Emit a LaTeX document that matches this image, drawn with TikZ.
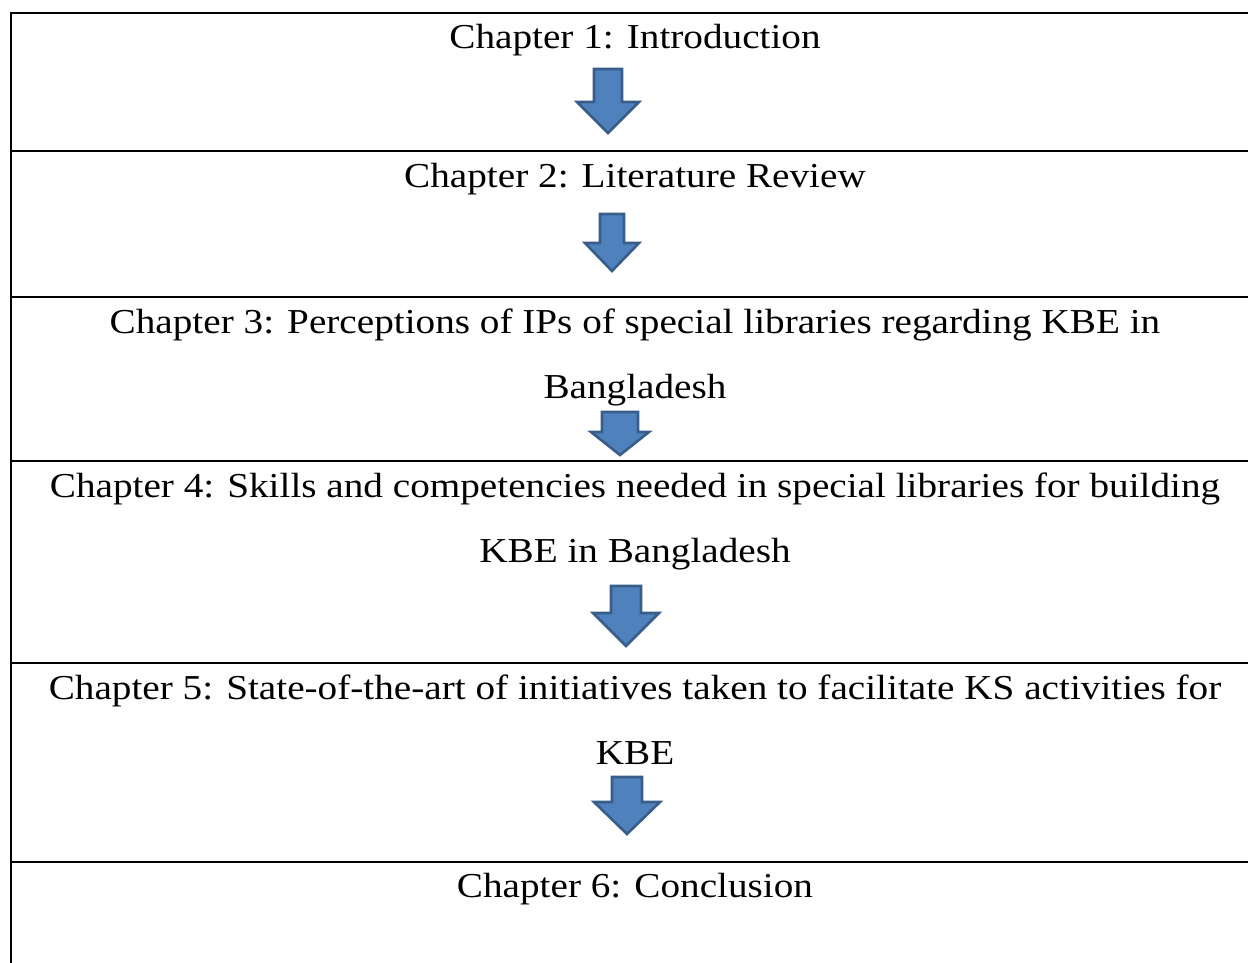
\documentclass[tikz,border=0pt]{standalone}
\usepackage{fontspec}
\setmainfont{Liberation Serif}[FakeStretch=1.12]
\definecolor{arrowfill}{HTML}{4F81BD}
\definecolor{arrowline}{HTML}{385D8A}
\tikzset{
  rule/.style={line width=2.4pt, black},
  chaptertext/.style={anchor=base, inner sep=0pt, font=\fontsize{35}{40}\selectfont},
  downarrow/.style={fill=arrowfill, draw=arrowline, line width=2.6pt, line join=miter}
}
% block arrow: centre x, shaft top, shaft half width, head y, head half width, tip y
\newcommand\blockdown[6]{%
  \draw[downarrow] (#1-#3,#2) -- (#1+#3,#2) -- (#1+#3,#4) -- (#1+#5,#4)
    -- (#1,#6) -- (#1-#5,#4) -- (#1-#3,#4) -- cycle;}
\begin{document}
\begin{tikzpicture}[x=1pt,y=-1pt]
\useasboundingbox (0,0) rectangle (1248,963);
\clip (0,0) rectangle (1248,963);

% table frame and row rules
\draw[rule] (11,13) -- (1260,13);
\draw[rule] (11,12) -- (11,970);
\foreach \yy in {151,297,461,663,862}
  \draw[rule] (11,\yy) -- (1260,\yy);

% chapter titles
\node[chaptertext] (c1) at (635,49) {Chapter 1: Introduction};
\node[chaptertext] (c2) at (635,187) {Chapter 2: Literature Review};
\node[chaptertext] (c3a) at (635,333) {Chapter 3: Perceptions of IPs of special libraries regarding KBE in};
\node[chaptertext] (c3b) at (635,398) {Bangladesh};
\node[chaptertext] (c4a) at (635,497) {Chapter 4: Skills and competencies needed in special libraries for building};
\node[chaptertext] (c4b) at (635,562) {KBE in Bangladesh};
\node[chaptertext] (c5a) at (635,699) {Chapter 5: State-of-the-art of initiatives taken to facilitate KS activities for};
\node[chaptertext] (c5b) at (635,764) {KBE};
\node[chaptertext] (c6) at (635,897) {Chapter 6: Conclusion};

% block arrows between chapters
\blockdown{608}{69}{14}{102}{31}{133}
\blockdown{612}{214}{12}{243}{27}{271}
\blockdown{620}{412}{18}{432}{29}{455}
\blockdown{626}{586}{15}{613}{33}{646}
\blockdown{627}{777}{15}{802}{33}{834}
\end{tikzpicture}
\end{document}
